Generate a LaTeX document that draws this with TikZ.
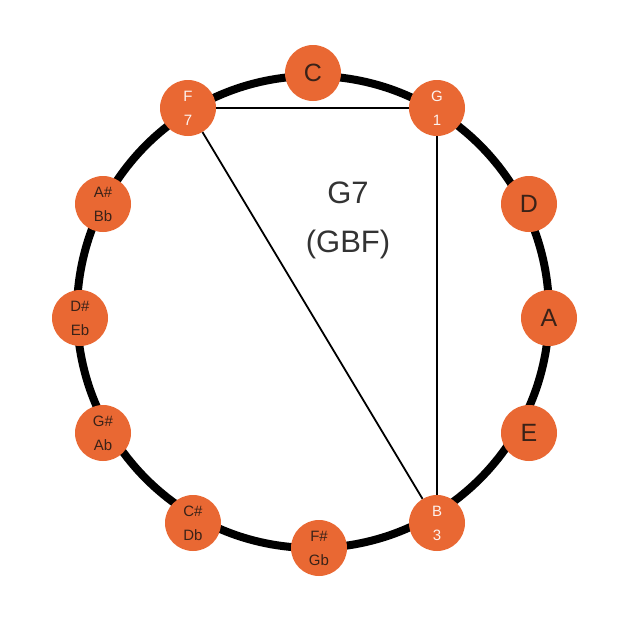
\documentclass[tikz,border=0pt]{standalone}
\usepackage{fontspec}
\setmainfont{Liberation Sans}
\definecolor{notefill}{HTML}{E96833}
\definecolor{notetext}{HTML}{3A2218}
\definecolor{chordtext}{HTML}{333333}
\tikzset{
  note/.style={circle,fill=notefill,minimum size=56pt,inner sep=0pt,text=notetext,
    font=\fontsize{25}{26}\selectfont},
  smallnote/.style={note,align=center,font=\fontsize{15}{24}\selectfont},
  chordnote/.style={smallnote,text=white!92!notefill}
}
\begin{document}
\begin{tikzpicture}[x=1pt,y=-1pt]
        \useasboundingbox[fill=white] (0,0) rectangle (638,637);
        \draw[line width=8pt] (313,312) circle (236pt);
        \node[note] (c) at (313,73){C};
        \node[chordnote] (g) at (437,108){G\\1};
        \node[note] (d) at (529,204){D};
        \node[note] (a) at (549,318){A};
        \node[note] (e) at (529,433){E};
        \node[chordnote] (b) at (437,523){B\\3};
        \node[smallnote] (fs) at (319,548){F\#\\Gb};
        \node[smallnote] (cs) at (193,523){C\#\\Db};
        \node[smallnote] (gs) at (103,433){G\#\\Ab};
        \node[smallnote] (ds) at (80,318){D\#\\Eb};
        \node[smallnote] (as) at (103,204){A\#\\Bb};
        \node[chordnote] (f) at (188,108){F\\7};
        \draw[line width=1.8pt] (f) -- (g) -- (b) -- (f);
        \node[text=chordtext,align=center,font=\fontsize{31}{49}\selectfont] (name) at (348,220){G7\\(GBF)};
    \end{tikzpicture}
\end{document}
